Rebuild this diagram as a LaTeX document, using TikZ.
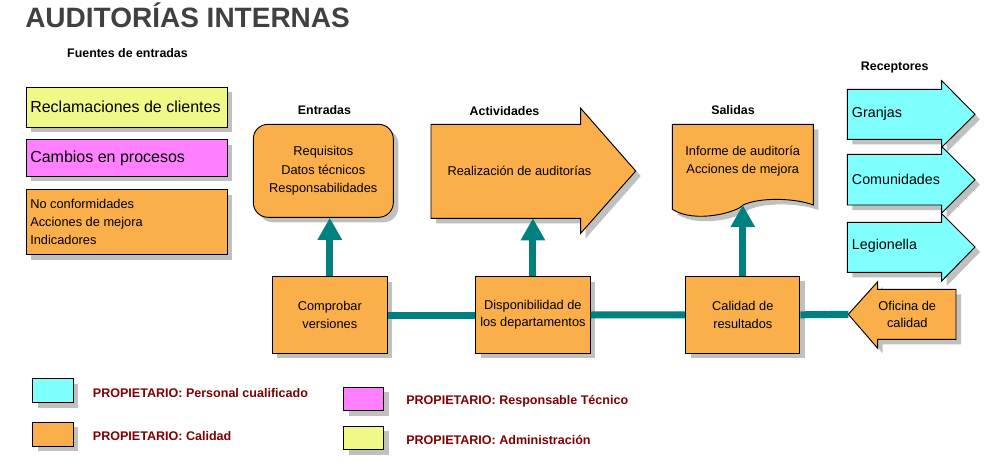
\documentclass[tikz,border=0pt]{standalone}
\usepackage{fontspec}
\setmainfont{Liberation Sans}
\usetikzlibrary{arrows.meta,shadows}
\definecolor{cyanbox}{RGB}{128,255,255}
\definecolor{orangebox}{RGB}{250,175,74}
\definecolor{magbox}{RGB}{255,128,255}
\definecolor{yelbox}{RGB}{240,248,136}
\definecolor{tealflow}{RGB}{0,128,128}
\definecolor{shadowgray}{RGB}{192,192,192}
\definecolor{titlegray}{RGB}{64,64,64}
\definecolor{ownerred}{RGB}{128,0,0}
\begin{document}
\begin{tikzpicture}[x=0.75pt,y=-0.75pt,
  shad/.style={drop shadow={shadow xshift=3.75pt,shadow yshift=-3.75pt,fill=shadowgray,opacity=1}},
  outl/.style={draw=black,line width=0.7pt,shad},
  box/.style={outl,fill=orangebox,inner sep=0pt,align=center,font=\fontsize{9.6}{13}\selectfont},
  swatch/.style={outl,inner sep=0pt,anchor=north west},
  txt/.style={inner sep=0pt,align=center,font=\fontsize{9.6}{13.75}\selectfont},
  ltxt/.style={inner sep=0pt,anchor=west,align=left},
  head/.style={inner sep=0pt,font=\bfseries\fontsize{9.3}{11}\selectfont},
  owner/.style={inner sep=0pt,anchor=west,text=ownerred,font=\bfseries\fontsize{9.4}{11}\selectfont},
  flow/.style={draw=tealflow,line width=5.25pt},
  uparrow/.style={flow,-{Triangle[width=17.25pt,length=16.5pt]}},
]
\fill[white] (0,0) rectangle (993,471);
\useasboundingbox (0,0) rectangle (993,471);

% title
\node[anchor=base west,inner sep=0pt,text=titlegray,font=\bfseries\fontsize{21}{24}\selectfont] (title) at (25,27) {AUDITORÍAS INTERNAS};

% headers
\node[head] (hfuentes) at (127.5,53) {Fuentes de entradas};
\node[head] (hentr) at (324.5,110) {Entradas};
\node[head] (hact) at (504.5,111) {Actividades};
\node[head] (hsal) at (733,110) {Salidas};
\node[head] (hrec) at (894.7,67.3) {Receptores};

% sources
\node[swatch,fill=yelbox,minimum width=150.75pt,minimum height=30pt] (recl) at (25.7,86.7) {};
\node[ltxt,font=\fontsize{12}{14}\selectfont] (recltxt) at (30,106.7) {Reclamaciones de clientes};
\node[swatch,fill=magbox,minimum width=150.75pt,minimum height=27.5pt] (camb) at (25.7,139.3) {};
\node[ltxt,font=\fontsize{12}{14}\selectfont] (cambtxt) at (30,158) {Cambios en procesos};
\node[swatch,fill=orangebox,minimum width=150.75pt,minimum height=48.75pt] (noconf) at (25.7,189.3) {};
\node[ltxt,font=\fontsize{9.6}{13.5}\selectfont] (noconftxt) at (30,221.5) {No conformidades\\Acciones de mejora\\Indicadores};

% entradas
\node[box,rounded corners=11pt,minimum width=105pt,minimum height=69.75pt,font=\fontsize{9.6}{13.75}\selectfont] (entr) at (323.3,170.8) {Requisitos\\Datos técnicos\\Responsabilidades};

% actividades arrow
\draw[outl,fill=orangebox] (431,124.3) -- (580.7,124.3) -- (580.7,108.3) -- (635.7,171) -- (580.7,233.3) -- (580.7,218.3) -- (431,218.3) -- cycle;
\node[txt] (act) at (519.5,171) {Realización de auditorías};
\coordinate (actbot) at (533,218.3);

% salidas document
\draw[outl,fill=orangebox] (672.3,124.3) -- (813.3,124.3) -- (813.3,205)
  .. controls (795,198) and (760,197) .. (743,205)
  .. controls (738,212) and (695,224) .. (672.3,209.3) -- cycle;
\node[txt] (doc) at (742.7,161) {Informe de auditoría\\Acciones de mejora};
\coordinate (doccusp) at (743,205);

% bottom boxes
\node[box,minimum width=86.25pt,minimum height=57.5pt] (comp) at (329.8,315) {Comprobar\\versiones};
\node[box,minimum width=85.7pt,minimum height=57.5pt] (disp) at (532.9,315) {Disponibilidad de\\los departamentos};
\node[box,minimum width=85.7pt,minimum height=57.75pt] (cal) at (742.8,314.8) {Calidad de\\resultados};

% receptores
\draw[outl,fill=cyanbox] (847.3,89.3) -- (941.7,89.3) -- (941.7,80.7) -- (975,114.3) -- (941.7,147.3) -- (941.7,139.3) -- (847.3,139.3) -- cycle;
\node[ltxt,font=\fontsize{10.7}{13}\selectfont] (gr) at (851.7,113.5) {Granjas};
\draw[outl,fill=cyanbox] (847.3,154.3) -- (941.7,154.3) -- (941.7,146.5) -- (975,179.7) -- (941.7,213) -- (941.7,205) -- (847.3,205) -- cycle;
\node[ltxt,font=\fontsize{10.7}{13}\selectfont] (com) at (851.7,179.3) {Comunidades};
\draw[outl,fill=cyanbox] (847.3,222.3) -- (941.7,222.3) -- (941.7,213.7) -- (975,247) -- (941.7,281) -- (941.7,272.3) -- (847.3,272.3) -- cycle;
\node[ltxt,font=\fontsize{10.7}{13}\selectfont] (leg) at (851.7,246) {Legionella};

% oficina de calidad
\draw[outl,fill=orangebox] (848.3,314.3) -- (877.7,281.7) -- (877.7,289.3) -- (956,289.3) -- (956,339.3) -- (877.7,339.3) -- (877.7,348.3) -- cycle;
\coordinate (ofitip) at (848.3,314.3);
\node[txt,font=\fontsize{9.6}{13}\selectfont] (ofi) at (907.3,314.5) {Oficina de\\calidad};

% connectors
\draw[flow] (comp.east) -- (disp.west);
\draw[flow] (disp.east) -- (cal.west);
\draw[flow] (cal.east) -- (ofitip);
\draw[uparrow] (comp.north) -- (comp.north |- entr.south);
\draw[uparrow] (disp.north) -- (disp.north |- actbot);
\draw[uparrow] (cal.north) -- (cal.north |- doccusp);

% legend
\node[swatch,fill=cyanbox,minimum width=30.3pt,minimum height=18pt] (lcyan) at (32.3,378.3) {};
\node[owner] (lcyantxt) at (92.7,393.3) {PROPIETARIO: Personal cualificado};
\node[swatch,fill=orangebox,minimum width=30.3pt,minimum height=18.2pt] (lorange) at (32.3,421.7) {};
\node[owner] (lorangetxt) at (92.7,436) {PROPIETARIO: Calidad};
\node[swatch,fill=magbox,minimum width=30pt,minimum height=17.5pt] (lmag) at (343.3,386.7) {};
\node[owner] (lmagtxt) at (406,400.7) {PROPIETARIO: Responsable Técnico};
\node[swatch,fill=yelbox,minimum width=30pt,minimum height=17.5pt] (lyel) at (343.3,425.7) {};
\node[owner] (lyeltxt) at (406,440) {PROPIETARIO: Administración};
\end{tikzpicture}
\end{document}
